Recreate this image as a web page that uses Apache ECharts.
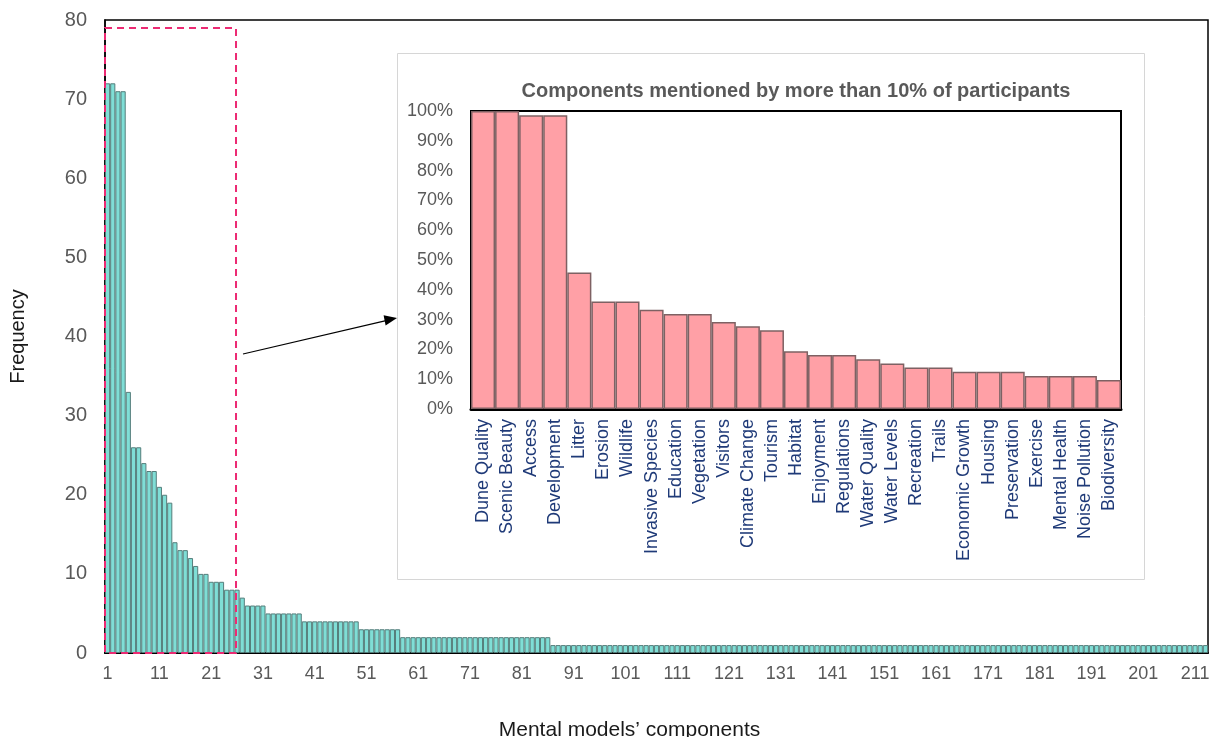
<!DOCTYPE html>
<html>
<head>
<meta charset="utf-8">
<script src="https://cdn.jsdelivr.net/npm/echarts@6/dist/echarts.min.js"></script>
<style>
html,body{margin:0;padding:0;background:#fff;}
#chart{width:1212px;height:737px;}
</style>
</head>
<body>
<div id="chart"></div>
<script>
// Main chart: frequency of each mental-model component (sorted)
const frequencies = [
  72,72,71,71,33,26,26,24,23,23,21,20,19,14,13,13,12,11,10,10,
  9,9,9,8,8,8,7,6,6,6,6,5,5,5,5,5,5,5,4,4,
  4,4,4,4,4,4,4,4,4,3,3,3,3,3,3,3,3,2,2,2,
  2,2,2,2,2,2,2,2,2,2,2,2,2,2,2,2,2,2,2,2,
  2,2,2,2,2,2,1,1,1,1,1,1,1,1,1,1,1,1,1,1,
  1,1,1,1,1,1,1,1,1,1,1,1,1,1,1,1,1,1,1,1,
  1,1,1,1,1,1,1,1,1,1,1,1,1,1,1,1,1,1,1,1,
  1,1,1,1,1,1,1,1,1,1,1,1,1,1,1,1,1,1,1,1,
  1,1,1,1,1,1,1,1,1,1,1,1,1,1,1,1,1,1,1,1,
  1,1,1,1,1,1,1,1,1,1,1,1,1,1,1,1,1,1,1,1,
  1,1,1,1,1,1,1,1,1,1,1,1,1
];
const componentIds = frequencies.map((_, i) => String(i + 1));

// Inset: components mentioned by more than 10% of participants
const insetCategories = [
  'Dune Quality','Scenic Beauty','Access','Development','Litter','Erosion','Wildlife',
  'Invasive Species','Education','Vegetation','Visitors','Climate Change','Tourism',
  'Habitat','Enjoyment','Regulations','Water Quality','Water Levels','Recreation',
  'Trails','Economic Growth','Housing','Preservation','Exercise','Mental Health',
  'Noise Pollution','Biodiversity'
];
const insetPercent = [
  100,100,98.6,98.6,45.8,36.1,36.1,33.3,31.9,31.9,29.2,27.8,26.4,
  19.4,18.1,18.1,16.7,15.3,13.9,13.9,12.5,12.5,12.5,11.1,11.1,11.1,9.7
];
const mainYTicks = [0, 80, 10];
const insetYTicks = [0, 100, 10];

const FONT = '"Liberation Sans", Arial, Helvetica, sans-serif';
const chart = echarts.init(document.getElementById('chart'), null, {renderer: 'canvas'});

const option = {
  animation: false,
  backgroundColor: '#ffffff',
  textStyle: {fontFamily: FONT},
  title: {
    text: 'Components mentioned by more than 10% of participants',
    left: 791, top: 76, textAlign: 'center',
    textStyle: {fontFamily: FONT, fontSize: 20, fontWeight: 'bold', color: '#595959'}
  },
  grid: [
    {left: 105, right: 4, top: 20, bottom: 84, show: true, borderColor: '#000', borderWidth: 1.5,
     backgroundColor: 'transparent', z: 1, containLabel: false, outerBoundsMode: 'none'},
    {left: 471, right: 91, top: 111, bottom: 328, show: true, borderColor: '#000', borderWidth: 2,
     backgroundColor: 'transparent', z: 3, containLabel: false, outerBoundsMode: 'none'}
  ],
  xAxis: [
    {
      type: 'category', gridIndex: 0, data: componentIds,
      name: 'Mental models’ components', nameLocation: 'middle', nameGap: 67,
      nameTextStyle: {fontFamily: FONT, fontSize: 21, color: '#1a1a1a', padding: [0, 54, 0, 0]},
      axisLine: {lineStyle: {color: '#000', width: 2}},
      axisTick: {show: false},
      axisLabel: {interval: 9, color: '#595959', fontSize: 18, fontFamily: FONT, margin: 12},
      splitLine: {show: false}
    },
    {
      type: 'category', gridIndex: 1, data: insetCategories,
      axisLine: {lineStyle: {color: '#000', width: 3}},
      axisTick: {show: false},
      axisLabel: {interval: 0, rotate: 90, color: '#1f3a78', fontSize: 18, fontFamily: FONT, margin: 10},
      splitLine: {show: false}
    }
  ],
  yAxis: [
    {
      type: 'value', gridIndex: 0, min: mainYTicks[0], max: mainYTicks[1], interval: mainYTicks[2],
      name: 'Frequency', nameLocation: 'middle', nameGap: 77, nameRotate: 90,
      nameTextStyle: {fontFamily: FONT, fontSize: 20, color: '#1a1a1a'},
      axisLine: {show: true, lineStyle: {color: '#000', width: 1.5}},
      axisTick: {show: false},
      axisLabel: {color: '#595959', fontSize: 20, fontFamily: FONT, margin: 18},
      splitLine: {show: false}
    },
    {
      type: 'value', gridIndex: 1, min: insetYTicks[0], max: insetYTicks[1], interval: insetYTicks[2],
      axisLine: {show: true, lineStyle: {color: '#000', width: 2}},
      axisTick: {show: false},
      axisLabel: {color: '#595959', fontSize: 18, fontFamily: FONT, margin: 18, formatter: '{value}%'},
      splitLine: {show: false}
    }
  ],
  series: [
    {
      type: 'bar', xAxisIndex: 0, yAxisIndex: 0, data: frequencies,
      barCategoryGap: '0%', z: 2,
      itemStyle: {color: '#7fded6', borderColor: '#557e7b', borderWidth: 1}
    },
    {
      type: 'bar', xAxisIndex: 1, yAxisIndex: 1, data: insetPercent,
      barCategoryGap: '0%', z: 4,
      itemStyle: {color: '#ffa0a6', borderColor: '#7e6163', borderWidth: 1.5}
    }
  ],
  graphic: [
    {
      id: 'insetBox', type: 'rect', z: -5, silent: true,
      shape: {x: 397.5, y: 53.5, width: 747, height: 526},
      style: {fill: '#ffffff', stroke: '#d6d6d6', lineWidth: 1}
    },
    {
      id: 'arrowLine', type: 'line', z: 10, silent: true,
      shape: {x1: 243, y1: 354, x2: 386, y2: 320.6},
      style: {stroke: '#000', lineWidth: 1.2}
    },
    {
      id: 'arrowHead', type: 'polygon', z: 10, silent: true,
      shape: {points: [[397, 318], [383.6, 315.2], [385.6, 325.4]]},
      style: {fill: '#000'}
    }
  ]
};
chart.setOption(option);

// Dashed highlight box around the first components (annotation), positioned through the axes
const p1 = chart.convertToPixel({xAxisIndex: 0, yAxisIndex: 0}, ['1', 79]);
const p2 = chart.convertToPixel({xAxisIndex: 0, yAxisIndex: 0}, ['2', 0]);
const bw = p2[0] - p1[0];
const x0 = p1[0] - bw / 2;
const x1 = x0 + 25.3 * bw;
chart.setOption({
  graphic: [
    {
      id: 'zoomBox', type: 'rect', z: 11, silent: true,
      shape: {x: x0, y: p1[1], width: x1 - x0, height: p2[1] - p1[1]},
      style: {fill: 'none', stroke: '#ec2a73', lineWidth: 2, lineDash: [7, 5]}
    }
  ]
});
</script>
</body>
</html>
